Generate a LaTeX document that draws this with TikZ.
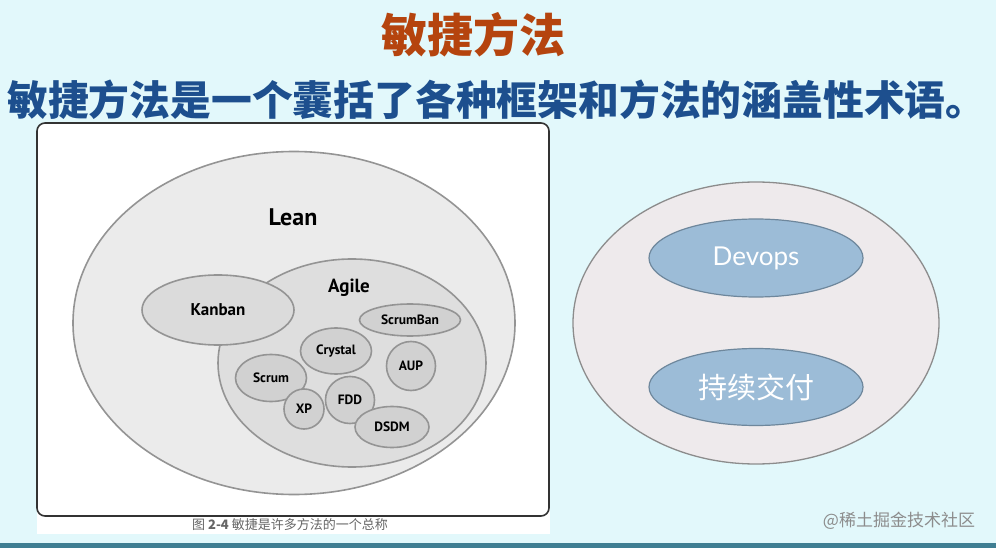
\documentclass[tikz,border=0pt]{standalone}
\usepackage{fontspec}
\usetikzlibrary{shapes.geometric}
\newfontfamily\cjk{Noto Sans CJK SC}
\newfontfamily\lblfont{PT Sans}
\newfontfamily\gillfont{Lato}
\definecolor{bgcyan}{HTML}{E2F8FB}
\definecolor{stripe}{HTML}{3F7E92}
\definecolor{titlered}{HTML}{B5440E}
\definecolor{subblue}{HTML}{1D4F8E}
\definecolor{ringgray}{HTML}{949494}
\definecolor{outerpink}{HTML}{EEEAEC}
\definecolor{blobblue}{HTML}{9CBCD7}
\definecolor{blobedge}{HTML}{6E879C}

\begin{document}
\begin{tikzpicture}[x=1pt,y=-1pt,
  oval/.style 2 args={ellipse,inner sep=0pt,minimum width=#1pt,minimum height=#2pt},
  grayset/.style={draw=ringgray,line width=1.6pt},
  small/.style={font=\lblfont\bfseries\fontsize{13.5}{14}\selectfont},
  bluset/.style={draw=blobedge,line width=1.2pt,fill=blobblue,text=white}]
  \useasboundingbox (0,0) rectangle (996,548);
  \fill[bgcyan] (0,0) rectangle (996,548);
  \fill[stripe] (0,543) rectangle (996,548);
  % headings
  \node[text=titlered,font=\cjk\bfseries\fontsize{46}{46}\selectfont] (title) at (473,35) {敏捷方法};
  \node[text=subblue,font=\cjk\bfseries\fontsize{40.8}{41}\selectfont] (subtitle) at (497,100) {敏捷方法是一个囊括了各种框架和方法的涵盖性术语。};
  % left figure
  \fill[white] (37,505) rectangle (550,534);
  \draw[rounded corners=8pt,fill=white,line width=1.6pt,draw=black!80] (37,123) rectangle (549,516);
  \node[text=black!60,font=\cjk\fontsize{13}{13}\selectfont] (caption) at (290,525) {图 \textbf{2-4} 敏捷是许多方法的一个总称};
  \node[oval={442}{343},grayset,fill=black!8] (lean) at (294,323) {};
  \node[font=\lblfont\bfseries\fontsize{24}{24}\selectfont] (leantxt) at (293,217) {Lean};
  \node[oval={268}{208},grayset,fill=black!13] (agile) at (352,363) {};
  \node[font=\lblfont\bfseries\fontsize{19}{19}\selectfont] (agiletxt) at (349,288) {Agile};
  \node[oval={152}{70},grayset,fill=black!14,font=\lblfont\bfseries\fontsize{17}{17}\selectfont] (kanban) at (218,310) {Kanban};
  \node[oval={101}{32},grayset,fill=black!18,small] (scrumban) at (410,320) {ScrumBan};
  \node[oval={71}{46},grayset,fill=black!18,small] (crystal) at (336,351) {Crystal};
  \node[oval={49}{49},grayset,fill=black!18,small] (aup) at (411,366) {AUP};
  \node[oval={71}{47},grayset,fill=black!18,small] (scrum) at (271,378) {Scrum};
  \node[oval={40}{40},grayset,fill=black!18,small] (xp) at (304,409) {XP};
  \node[oval={49}{47},grayset,fill=black!18,small] (fdd) at (350,400) {FDD};
  \node[oval={74}{41},grayset,fill=black!18,small] (dsdm) at (392,427) {DSDM};
  % right figure
  \node[oval={366}{282},draw=black!45,line width=1.3pt,fill=outerpink] (devset) at (756,323) {};
  \node[oval={214}{78},bluset,font=\gillfont\fontsize{26}{26}\selectfont] (devops) at (756,258) {Devops};
  \node[oval={214}{77},bluset,font=\cjk\fontsize{29}{29}\selectfont] (cd) at (756,387) {持续交付};
  \node[text=black!45,font=\cjk\fontsize{17}{17}\selectfont] (mark) at (899,521) {@稀土掘金技术社区};
\end{tikzpicture}
\end{document}
